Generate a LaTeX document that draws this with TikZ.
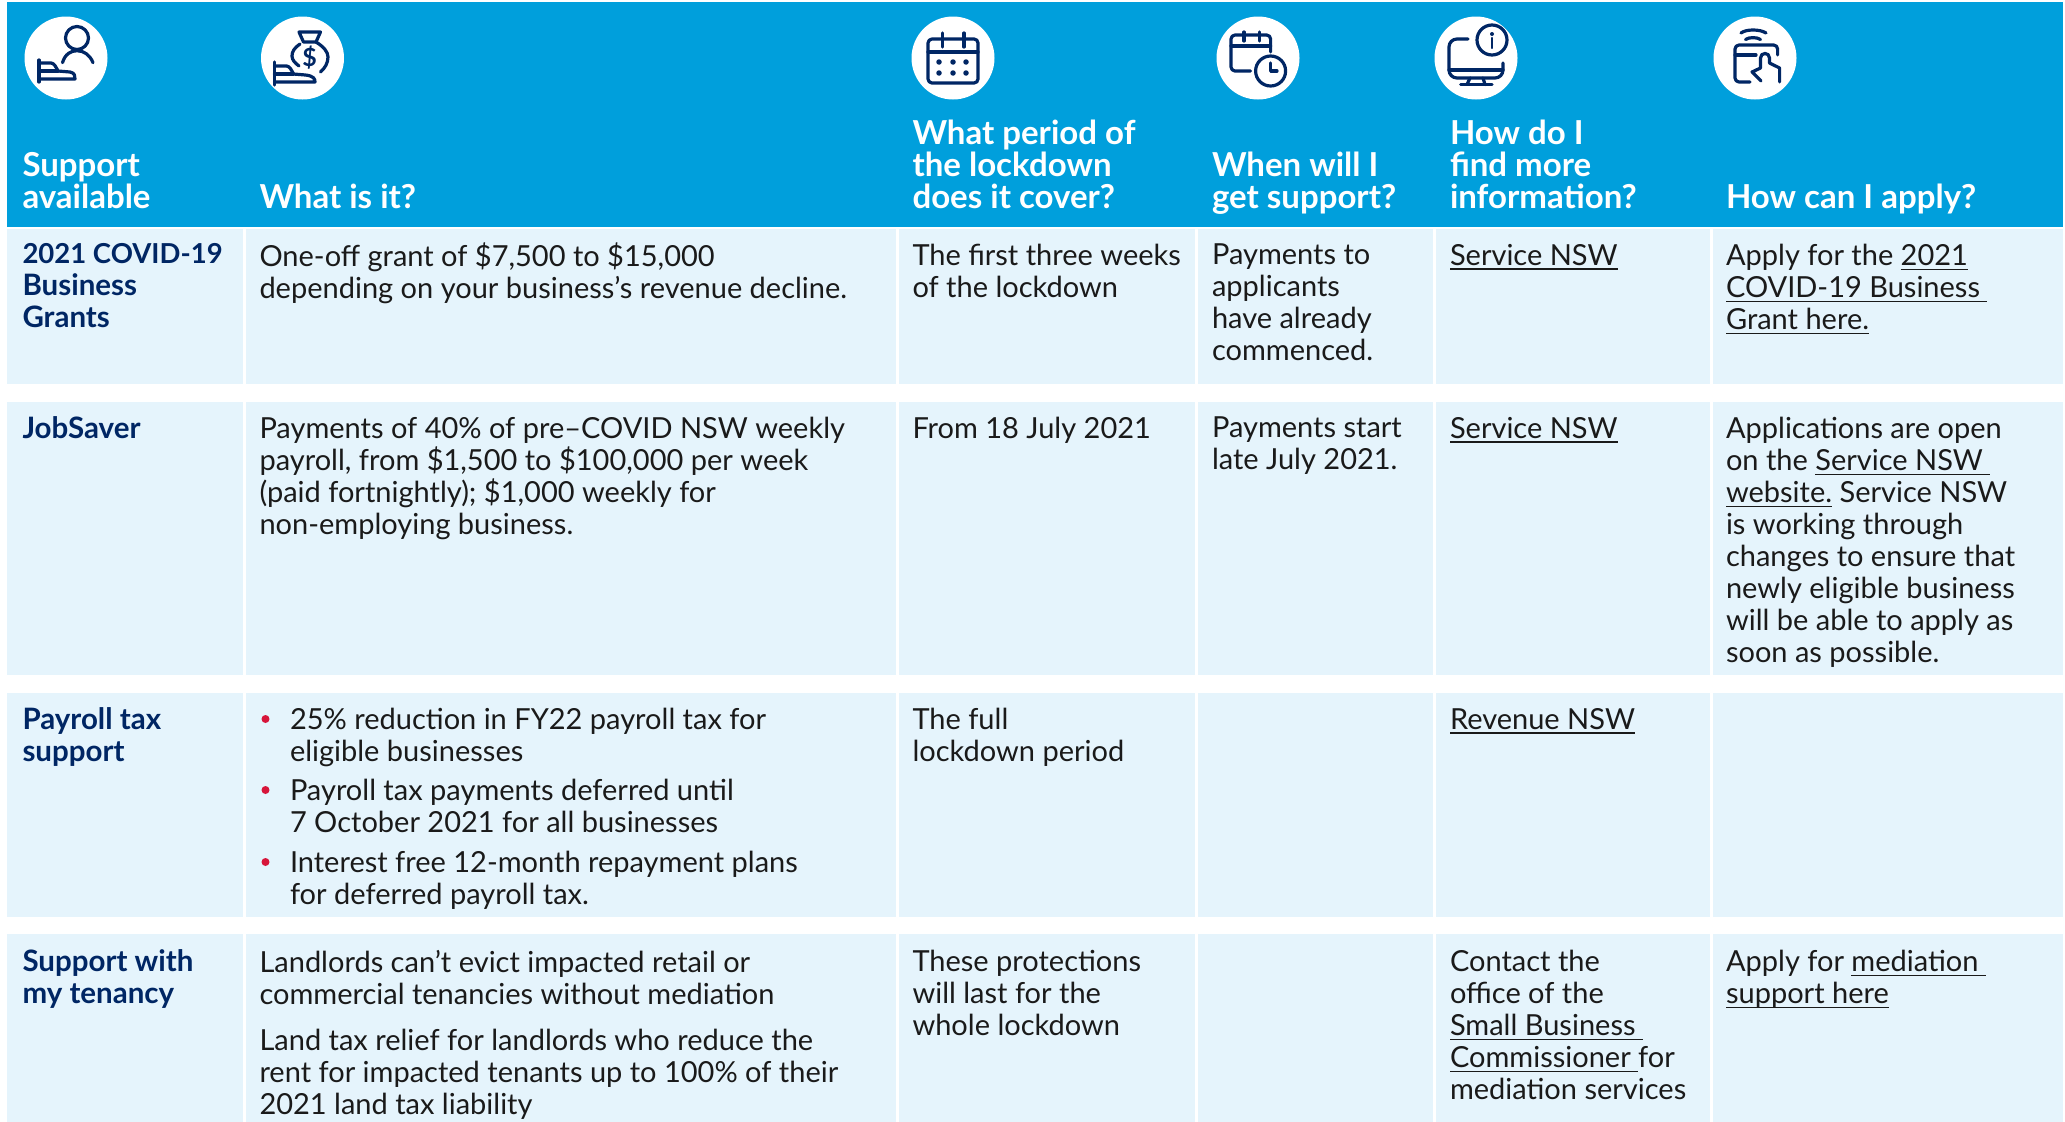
\documentclass[tikz,border=0pt]{standalone}
\usepackage{fontspec}
\setmainfont{Lato}
\definecolor{hdr}{HTML}{009FDC}
\definecolor{rowc}{HTML}{E5F4FC}
\definecolor{navy}{HTML}{002664}
\definecolor{ink}{HTML}{1A1A1A}
\definecolor{nswred}{HTML}{D7153A}
\newsavebox\lnkbox
\newcommand\lnk[1]{\sbox\lnkbox{#1}\rlap{\usebox\lnkbox}\rule[-4.6pt]{\wd\lnkbox}{1.6pt}}
\tikzset{
  txt/.style={anchor=north west,inner sep=0pt,outer sep=0pt,align=left,yshift=19.8pt,text=ink,
    font=\fontsize{29}{32}\selectfont,execute at begin node=\strut},
  lead/.style={txt,yshift=1pt,text=navy,font=\fontsize{29.5}{32}\selectfont\bfseries},
  head/.style={txt,yshift=1pt,text=white,font=\fontsize{33}{32}\selectfont\bfseries},
  oneline/.style={yshift=1.3pt},
  bul/.style={circle,fill=nswred,inner sep=0pt,minimum size=8pt},
  disc/.style={ellipse,fill=white,minimum width=83pt,minimum height=83pt,inner sep=0pt},
  ico/.style={draw=navy,line width=3.2pt,line cap=round,line join=round},
  dotp/.style={circle,fill=navy,inner sep=0pt,minimum size=5.5pt}
}
\usetikzlibrary{shapes.geometric}
\begin{document}
\begin{tikzpicture}[x=1pt,y=-1pt]
\useasboundingbox (0,0) rectangle (2065,1122);
\fill[white] (0,0) rectangle (2065,1122);
% header
\fill[hdr] (7,2) rectangle (2063,227);
% rows
\foreach \ya/\yb in {229/384,402/675,693/917,934/1122}
  \foreach \xa/\xb in {7/243,246/896,899/1195,1198/1433,1436/1710,1713/2063}
    \fill[rowc] (\xa,\ya) rectangle (\xb,\yb);
% discs
\foreach \n/\x in {d1/66,d2/302.5,d3/953,d4/1258,d5/1476,d6/1755}
  \node[disc] (\n) at (\x,58) {};
% icon 1
\draw[ico] (77,38) circle (11.5);
\draw[ico] (62.5,62.7) .. controls (65,54) and (71,50.7) .. (77,50.7) .. controls (84,50.7) and (90,55) .. (93,62.7);
\draw[ico] (39,60) -- (39,82);
\draw[ico] (39,63) -- (51,63) .. controls (54,63) and (56,67) .. (58,71) -- (70,72) .. controls (75,73) and (75,76) .. (75,79) -- (39,79);
\draw[ico] (39,71) -- (58,71);
% icon 2
\draw[ico] (299,32) -- (320.5,32) -- (316,42) -- (303.5,42) -- cycle;
\draw[ico] (300,44) .. controls (294,48) and (292,52) .. (292,56) .. controls (292,60) and (295,63) .. (299,66);
\draw[ico] (316,42) .. controls (324,47) and (328,52) .. (328,57) .. controls (328,63) and (325,68) .. (320.5,72);
\node[text=navy,inner sep=0pt,font=\fontsize{25}{25}\selectfont\bfseries] (dollar) at (309.5,58) {\$};
\draw[ico] (274.5,62) -- (274.5,85);
\draw[ico] (274.5,66) -- (286.5,66) .. controls (289.5,66) and (291.5,70) .. (293.5,74) -- (305.5,75) .. controls (314,76) and (315,79) .. (315,82) -- (274.5,82);
\draw[ico] (274.5,74) -- (293.5,74);
% icon 3
\draw[ico,rounded corners=4pt] (928,39) rectangle (978,83);
\draw[ico] (928,52) -- (978,52);
\draw[ico] (942.5,33) -- (942.5,47);
\draw[ico] (964,33) -- (964,47);
\foreach \n/\x/\y in {p1/939/62,p2/953/62,p3/966/62,p4/939/73,p5/953/73,p6/966/73}
  \node[dotp] (\n) at (\x,\y) {};
% icon 4
\draw[ico,rounded corners=4pt] (1270.6,52) -- (1270.6,35) -- (1231,35) -- (1231,71) -- (1250.5,71);
\draw[ico] (1231,46) -- (1270.6,46);
\draw[ico] (1244,32) -- (1244,41);
\draw[ico] (1259.5,32) -- (1259.5,41);
\draw[ico] (1270.6,71) circle (15);
\draw[ico] (1270.6,63) -- (1270.6,71) -- (1277,71);
% icon 5
\draw[ico,rounded corners=8pt] (1468,39) -- (1449,39) -- (1449,78) -- (1503,78) -- (1503,63);
\draw[ico] (1449,70) -- (1503,70);
\draw[ico] (1470,78) -- (1467,84.5);
\draw[ico] (1483,78) -- (1485,84.5);
\draw[ico] (1460.6,84.7) -- (1492,84.7);
\draw[ico] (1492,40) circle (15);
\node[dotp,minimum size=4pt] (idot) at (1492,34) {};
\draw[ico,line width=2.4pt] (1492,38) -- (1492,48);
% icon 6
\draw[ico] (1741,33) .. controls (1746,29) and (1760,29) .. (1766,33);
\draw[ico] (1745.5,39.5) .. controls (1749,37) and (1757,37) .. (1760.5,39.5);
\draw[ico,rounded corners=4pt] (1777.6,55) -- (1777.6,45) -- (1735,45) -- (1735,82) -- (1750,82);
\draw[ico] (1735,55) -- (1756,55);
\draw[ico] (1761,81) -- (1752,72) -- (1760.5,68) -- (1760.5,58) .. controls (1760.5,52) and (1769.5,52) .. (1769.5,58) -- (1769.5,63) -- (1779.6,68) -- (1779.6,82);
% header text
\node[head] (h1) at (22.5,173) {Support\\available};
\node[head] (h2) at (259.5,205) {What is it?};
\node[head] (h3) at (912.5,141) {What period of\\the lockdown\\does it cover?};
\node[head] (h4) at (1212,173) {When will I\\get support?};
\node[head] (h5) at (1450,141) {How do I\\find more\\information?};
\node[head] (h6) at (1726,205) {How can I apply?};
% row 1
\node[lead] (r1a) at (22.5,264) {{\fontsize{27.5}{32}\selectfont 2021 COVID-19}\\Business\\Grants};
\node[txt] (r1b) at (259.5,263) {One-off grant of \$7,500 to \$15,000\\depending on your business’s revenue decline.};
\node[txt] (r1c) at (912.5,264) {The first three weeks\\of the lockdown};
\node[txt] (r1d) at (1212,264) {Payments to\\applicants\\have already\\commenced.};
\node[txt,oneline] (r1e) at (1450,264) {\lnk{Service NSW}};
\node[txt] (r1f) at (1726,264) {Apply for the \lnk{2021}\\\lnk{COVID-19 Business\ }\\\lnk{Grant here.}};
% row 2
\node[lead] (r2a) at (22.5,437) {JobSaver};
\node[txt] (r2b) at (259.5,437) {Payments of 40\% of pre–COVID NSW weekly\\payroll, from \$1,500 to \$100,000 per week\\(paid fortnightly); \$1,000 weekly for\\non-employing business.};
\node[txt,oneline] (r2c) at (912.5,437) {From 18 July 2021};
\node[txt] (r2d) at (1212,437) {Payments start\\late July 2021.};
\node[txt,oneline] (r2e) at (1450,437) {\lnk{Service NSW}};
\node[txt] (r2f) at (1726,437) {Applications are open\\on the \lnk{Service NSW\ }\\\lnk{website.} Service NSW\\is working through\\changes to ensure that\\newly eligible business\\will be able to apply as\\soon as possible.};
% row 3
\node[lead] (r3a) at (22.5,728) {Payroll tax\\support};
\node[bul] (b1) at (265.5,719) {};
\node[txt] (r3b1) at (290,728) {25\% reduction in FY22 payroll tax for\\eligible businesses};
\node[bul] (b2) at (265.5,790) {};
\node[txt] (r3b2) at (290,799) {Payroll tax payments deferred until\\7 October 2021 for all businesses};
\node[bul] (b3) at (265.5,862) {};
\node[txt] (r3b3) at (290,871) {Interest free 12-month repayment plans\\for deferred payroll tax.};
\node[txt] (r3c) at (912.5,728) {The full\\lockdown period};
\node[txt,oneline] (r3e) at (1450,728) {\lnk{Revenue NSW}};
% row 4
\node[lead] (r4a) at (22.5,970) {Support with\\my tenancy};
\node[txt] (r4b1) at (259.5,970) {Landlords can’t evict impacted retail or\\commercial tenancies without mediation};
\node[txt] (r4b2) at (259.5,1049) {Land tax relief for landlords who reduce the\\rent for impacted tenants up to 100\% of their\\2021 land tax liability};
\node[txt] (r4c) at (912.5,970) {These protections\\will last for the\\whole lockdown};
\node[txt] (r4e) at (1450,970) {Contact the\\office of the\\\lnk{Small Business\ }\\\lnk{Commissioner\ }for\\mediation services};
\node[txt] (r4f) at (1726,970) {Apply for \lnk{mediation\ }\\\lnk{support here}};
\end{tikzpicture}
\end{document}
